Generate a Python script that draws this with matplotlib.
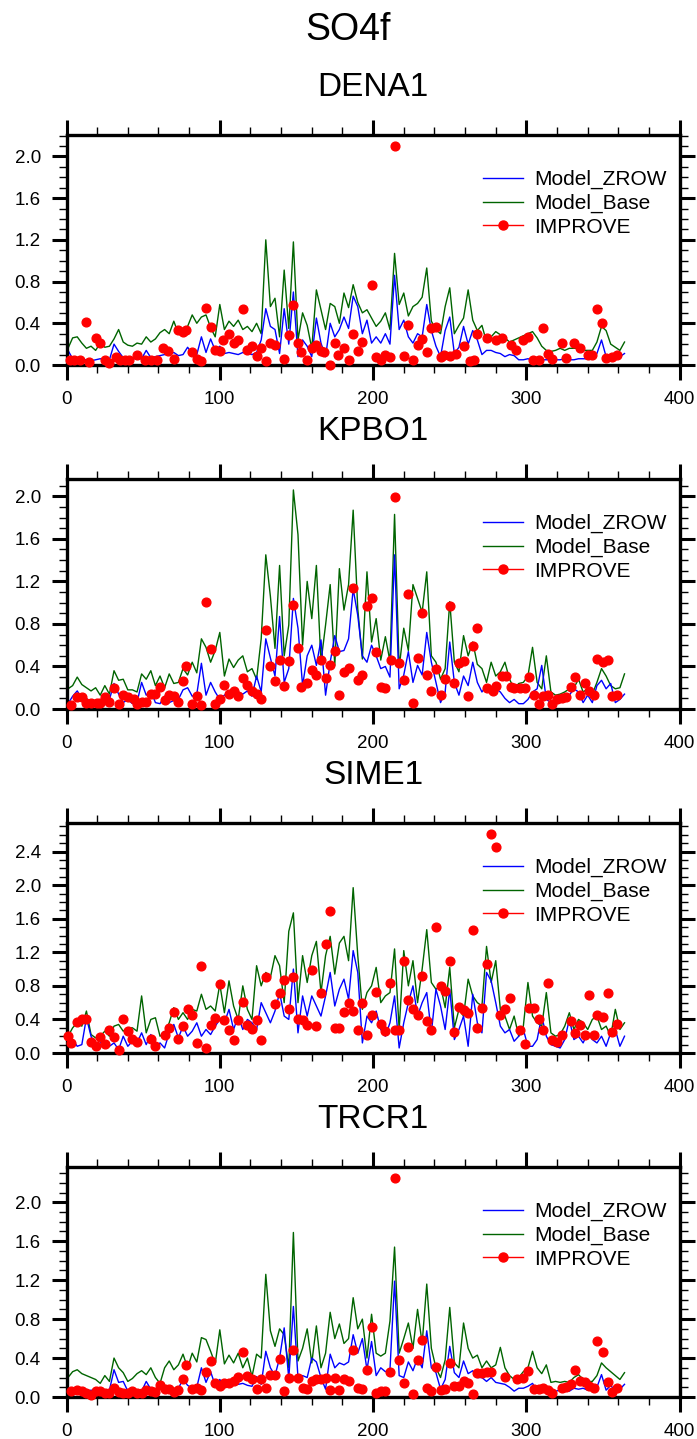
import numpy as np
import matplotlib
matplotlib.use("Agg")
import matplotlib.pyplot as plt
from matplotlib.lines import Line2D
from matplotlib.ticker import MultipleLocator, FormatStrFormatter

plt.rcParams['font.family'] = ['Liberation Sans', 'DejaVu Sans']

# model output every 3rd day of the year
days = np.arange(1, 366, 3)

sites = ["DENA1", "KPBO1", "SIME1", "TRCR1"]
labels = ["Model_ZROW", "Model_Base", "IMPROVE"]

dena1_base = [
    0.16, 0.26, 0.27, 0.21, 0.16, 0.18, 0.14, 0.21, 0.17, 0.18,
    0.25, 0.34, 0.22, 0.19, 0.18, 0.21, 0.20, 0.27, 0.22, 0.25,
    0.31, 0.34, 0.30, 0.42, 0.30, 0.35, 0.37, 0.48, 0.40, 0.46,
    0.48, 0.36, 0.27, 0.58, 0.34, 0.42, 0.37, 0.43, 0.34, 0.37,
    0.32, 0.40, 0.30, 1.20, 0.56, 0.64, 0.27, 0.91, 0.35, 1.18,
    0.24, 0.50, 0.38, 0.16, 0.72, 0.53, 0.34, 0.59, 0.56, 0.40,
    0.69, 0.55, 0.77, 0.60, 0.50, 0.53, 0.45, 0.37, 0.42, 0.50,
    0.34, 1.07, 0.58, 0.69, 0.47, 0.56, 0.59, 0.65, 0.93, 0.42,
    0.34, 0.30, 0.56, 0.74, 0.30, 0.38, 0.45, 0.72, 0.43, 0.33,
    0.38, 0.22, 0.27, 0.32, 0.29, 0.26, 0.22, 0.24, 0.26, 0.28,
    0.30, 0.32, 0.26, 0.18, 0.14, 0.13, 0.14, 0.16, 0.14, 0.16,
    0.16, 0.16, 0.14, 0.14, 0.14, 0.22, 0.37, 0.33, 0.20, 0.17,
    0.14, 0.22]
dena1_zrow = [
    0.14, 0.06, 0.05, 0.05, 0.05, 0.04, 0.05, 0.06, 0.05, 0.05,
    0.20, 0.13, 0.07, 0.06, 0.06, 0.06, 0.06, 0.14, 0.07, 0.08,
    0.09, 0.10, 0.10, 0.12, 0.09, 0.10, 0.17, 0.11, 0.10, 0.27,
    0.12, 0.25, 0.14, 0.18, 0.11, 0.12, 0.11, 0.10, 0.12, 0.11,
    0.10, 0.12, 0.24, 0.54, 0.37, 0.34, 0.11, 0.54, 0.20, 0.70,
    0.08, 0.24, 0.18, 0.08, 0.45, 0.21, 0.08, 0.40, 0.27, 0.34,
    0.46, 0.35, 0.66, 0.56, 0.30, 0.43, 0.21, 0.27, 0.21, 0.30,
    0.20, 0.86, 0.34, 0.43, 0.27, 0.21, 0.30, 0.27, 0.58, 0.33,
    0.18, 0.08, 0.33, 0.46, 0.11, 0.17, 0.37, 0.20, 0.33, 0.24,
    0.10, 0.14, 0.14, 0.12, 0.11, 0.08, 0.10, 0.09, 0.05, 0.05,
    0.06, 0.05, 0.05, 0.05, 0.05, 0.05, 0.05, 0.05, 0.06, 0.05,
    0.05, 0.06, 0.06, 0.06, 0.07, 0.11, 0.24, 0.08, 0.07, 0.07,
    0.08, 0.11]
dena1_obs_day = [
    2, 5, 9, 13, 15, 19, 22, 25, 28, 32,
    35, 38, 41, 46, 51, 55, 59, 63, 66, 70,
    73, 76, 78, 82, 85, 88, 91, 94, 97, 100,
    102, 106, 109, 112, 115, 118, 121, 124, 127, 130,
    133, 136, 142, 145, 148, 151, 153, 157, 160, 163,
    166, 168, 172, 175, 177, 181, 184, 187, 190, 193,
    199, 202, 205, 208, 211, 214, 220, 223, 226, 229,
    232, 235, 238, 241, 244, 246, 250, 254, 259, 263,
    266, 268, 274, 280, 284, 290, 293, 298, 301, 304,
    308, 311, 314, 317, 323, 326, 331, 335, 340, 343,
    346, 349, 352, 356, 359]
dena1_obs = [
    0.05, 0.05, 0.05, 0.41, 0.03, 0.26, 0.21, 0.05, 0.02, 0.08,
    0.05, 0.05, 0.05, 0.10, 0.05, 0.05, 0.05, 0.16, 0.13, 0.06,
    0.34, 0.32, 0.34, 0.12, 0.06, 0.04, 0.55, 0.36, 0.14, 0.13,
    0.24, 0.30, 0.21, 0.24, 0.54, 0.14, 0.18, 0.09, 0.16, 0.04,
    0.21, 0.19, 0.06, 0.29, 0.58, 0.21, 0.12, 0.05, 0.16, 0.19,
    0.13, 0.12, 0.00, 0.21, 0.10, 0.16, 0.05, 0.30, 0.13, 0.22,
    0.77, 0.08, 0.05, 0.10, 0.08, 2.10, 0.09, 0.38, 0.05, 0.19,
    0.25, 0.12, 0.35, 0.36, 0.08, 0.10, 0.09, 0.11, 0.18, 0.04,
    0.05, 0.30, 0.26, 0.24, 0.26, 0.19, 0.14, 0.24, 0.27, 0.05,
    0.05, 0.35, 0.11, 0.06, 0.21, 0.07, 0.21, 0.16, 0.10, 0.10,
    0.54, 0.40, 0.07, 0.08, 0.10]

kpbo1_base = [
    0.19, 0.22, 0.30, 0.23, 0.20, 0.17, 0.20, 0.13, 0.22, 0.14,
    0.36, 0.27, 0.28, 0.18, 0.18, 0.16, 0.33, 0.28, 0.36, 0.22,
    0.31, 0.20, 0.33, 0.24, 0.25, 0.38, 0.32, 0.44, 0.34, 0.66,
    0.58, 0.44, 0.55, 0.72, 0.31, 0.47, 0.39, 0.46, 0.50, 0.35,
    0.38, 0.28, 0.66, 1.45, 1.06, 0.57, 1.35, 0.50, 0.79, 2.06,
    1.64, 0.60, 1.20, 0.85, 1.35, 0.44, 0.79, 1.17, 0.41, 1.32,
    0.93, 1.17, 1.87, 0.94, 0.47, 1.29, 0.63, 0.85, 0.46, 0.68,
    0.45, 1.83, 0.39, 0.76, 0.55, 1.17, 1.04, 0.91, 1.29, 0.50,
    0.44, 0.28, 0.38, 1.01, 0.44, 0.35, 0.69, 0.50, 0.63, 0.42,
    0.38, 0.25, 0.44, 0.31, 0.35, 0.44, 0.28, 0.19, 0.24, 0.25,
    0.31, 0.58, 0.25, 0.19, 0.50, 0.16, 0.13, 0.14, 0.16, 0.19,
    0.20, 0.28, 0.16, 0.19, 0.14, 0.25, 0.38, 0.31, 0.22, 0.19,
    0.20, 0.33]
kpbo1_zrow = [
    0.05, 0.12, 0.17, 0.10, 0.10, 0.06, 0.08, 0.04, 0.06, 0.09,
    0.24, 0.14, 0.06, 0.09, 0.05, 0.06, 0.25, 0.13, 0.17, 0.06,
    0.05, 0.12, 0.06, 0.08, 0.09, 0.18, 0.20, 0.12, 0.14, 0.43,
    0.13, 0.25, 0.16, 0.09, 0.13, 0.16, 0.13, 0.16, 0.14, 0.17,
    0.12, 0.31, 0.16, 0.66, 0.48, 0.31, 0.87, 0.25, 0.38, 1.04,
    0.76, 0.22, 0.50, 0.60, 0.41, 0.65, 0.13, 0.44, 0.69, 0.54,
    0.55, 0.66, 1.13, 0.88, 0.50, 0.44, 0.60, 0.50, 0.38, 0.40,
    0.30, 1.45, 0.19, 0.32, 0.54, 0.25, 0.41, 0.32, 0.72, 0.44,
    0.25, 0.06, 0.16, 0.63, 0.25, 0.13, 0.31, 0.22, 0.44, 0.25,
    0.16, 0.22, 0.16, 0.19, 0.16, 0.10, 0.06, 0.09, 0.05, 0.05,
    0.09, 0.16, 0.19, 0.41, 0.09, 0.06, 0.05, 0.06, 0.09, 0.13,
    0.19, 0.16, 0.06, 0.13, 0.06, 0.22, 0.27, 0.19, 0.24, 0.06,
    0.09, 0.14]
kpbo1_obs_day = [
    3, 7, 10, 13, 16, 20, 22, 25, 28, 31,
    34, 37, 40, 44, 46, 49, 52, 55, 58, 61,
    64, 67, 70, 73, 76, 78, 82, 85, 88, 91,
    94, 97, 100, 103, 106, 109, 112, 115, 118, 121,
    124, 127, 130, 133, 136, 139, 142, 145, 148, 151,
    153, 157, 160, 163, 166, 169, 172, 175, 178, 181,
    184, 187, 190, 193, 196, 199, 202, 205, 208, 212,
    214, 217, 220, 223, 226, 229, 232, 235, 238, 241,
    244, 247, 250, 253, 256, 259, 262, 265, 268, 274,
    278, 280, 284, 287, 290, 292, 296, 299, 302, 305,
    308, 311, 314, 317, 320, 323, 326, 329, 332, 335,
    338, 341, 344, 346, 350, 353, 356, 359]
kpbo1_obs = [
    0.04, 0.11, 0.11, 0.06, 0.06, 0.06, 0.06, 0.11, 0.07, 0.20,
    0.05, 0.13, 0.11, 0.09, 0.05, 0.07, 0.07, 0.14, 0.14, 0.21,
    0.08, 0.13, 0.12, 0.07, 0.26, 0.40, 0.05, 0.12, 0.04, 1.01,
    0.56, 0.05, 0.09, 0.23, 0.14, 0.17, 0.12, 0.29, 0.23, 0.17,
    0.14, 0.09, 0.74, 0.40, 0.26, 0.46, 0.22, 0.45, 0.98, 0.57,
    0.21, 0.24, 0.37, 0.32, 0.46, 0.29, 0.41, 0.55, 0.13, 0.35,
    0.39, 1.14, 0.27, 0.32, 0.97, 1.04, 0.54, 0.21, 0.20, 0.46,
    1.99, 0.43, 0.27, 1.08, 0.06, 0.48, 0.90, 0.32, 0.17, 0.38,
    0.13, 0.28, 0.97, 0.24, 0.43, 0.45, 0.12, 0.59, 0.76, 0.20,
    0.17, 0.22, 0.31, 0.31, 0.21, 0.20, 0.20, 0.20, 0.30, 0.13,
    0.05, 0.12, 0.13, 0.05, 0.09, 0.10, 0.11, 0.21, 0.30, 0.13,
    0.24, 0.17, 0.13, 0.47, 0.44, 0.46, 0.12, 0.13]

sime1_base = [
    0.20, 0.30, 0.36, 0.32, 0.50, 0.22, 0.18, 0.20, 0.26, 0.20,
    0.32, 0.34, 0.26, 0.30, 0.30, 0.26, 0.68, 0.24, 0.40, 0.42,
    0.20, 0.24, 0.36, 0.54, 0.40, 0.48, 0.40, 0.52, 0.50, 0.70,
    0.52, 0.56, 0.50, 0.82, 0.48, 0.86, 0.56, 0.40, 0.80, 0.52,
    0.40, 1.04, 0.80, 0.96, 0.90, 1.16, 1.04, 0.60, 1.45, 1.67,
    0.60, 1.16, 0.84, 1.16, 1.33, 0.72, 1.16, 1.39, 0.94, 1.31,
    1.39, 1.10, 1.97, 1.16, 0.52, 0.72, 0.80, 1.02, 0.60, 0.68,
    0.72, 1.24, 0.28, 1.22, 0.80, 1.10, 0.60, 1.00, 1.47, 0.84,
    0.76, 0.80, 0.54, 1.02, 0.30, 0.52, 0.44, 0.88, 0.68, 0.60,
    0.56, 1.27, 0.84, 1.10, 0.52, 0.44, 0.28, 0.44, 0.20, 0.32,
    0.84, 0.44, 0.36, 0.32, 0.72, 0.24, 0.20, 0.22, 0.32, 0.48,
    0.28, 0.40, 0.36, 0.28, 0.40, 0.44, 0.28, 0.32, 0.20, 0.52,
    0.28, 0.36]
sime1_zrow = [
    0.12, 0.16, 0.08, 0.10, 0.42, 0.20, 0.08, 0.12, 0.14, 0.08,
    0.12, 0.04, 0.20, 0.08, 0.14, 0.12, 0.24, 0.10, 0.22, 0.08,
    0.12, 0.06, 0.24, 0.34, 0.18, 0.32, 0.20, 0.26, 0.36, 0.20,
    0.28, 0.22, 0.32, 0.40, 0.36, 0.52, 0.28, 0.44, 0.28, 0.40,
    0.36, 0.28, 0.60, 0.48, 0.36, 0.50, 0.72, 0.44, 0.40, 1.00,
    0.24, 0.68, 0.44, 0.68, 0.56, 0.44, 0.68, 0.96, 0.56, 0.76,
    0.88, 0.64, 1.22, 0.96, 0.12, 0.44, 0.36, 0.50, 0.28, 0.20,
    0.36, 0.68, 0.06, 0.36, 0.60, 0.80, 0.44, 0.60, 0.72, 0.24,
    0.76, 0.56, 0.28, 0.76, 0.16, 0.28, 0.44, 0.08, 0.70, 0.36,
    0.24, 0.96, 0.86, 0.60, 0.32, 0.24, 0.28, 0.14, 0.20, 0.28,
    0.08, 0.08, 0.16, 0.44, 0.20, 0.10, 0.08, 0.06, 0.16, 0.40,
    0.16, 0.20, 0.12, 0.24, 0.16, 0.12, 0.20, 0.08, 0.24, 0.28,
    0.08, 0.20]
sime1_obs_day = [
    1, 3, 7, 10, 13, 16, 19, 22, 25, 28,
    31, 34, 37, 40, 43, 46, 55, 58, 64, 67,
    70, 73, 76, 79, 82, 85, 88, 91, 94, 97,
    100, 103, 106, 109, 112, 115, 118, 121, 124, 127,
    130, 136, 139, 142, 145, 148, 151, 154, 157, 160,
    163, 166, 169, 172, 175, 178, 181, 184, 187, 190,
    193, 196, 199, 202, 205, 208, 211, 214, 217, 220,
    223, 226, 229, 232, 235, 238, 241, 244, 247, 250,
    253, 256, 259, 262, 265, 268, 271, 274, 277, 280,
    283, 286, 289, 296, 299, 302, 305, 308, 311, 314,
    317, 320, 323, 329, 332, 335, 338, 341, 344, 346,
    350, 353, 356, 359]
sime1_obs = [
    0.20, 0.12, 0.37, 0.41, 0.41, 0.13, 0.08, 0.19, 0.11, 0.28,
    0.19, 0.04, 0.41, 0.26, 0.17, 0.13, 0.17, 0.08, 0.21, 0.30,
    0.49, 0.17, 0.32, 0.53, 0.45, 0.12, 1.04, 0.06, 0.33, 0.42,
    0.82, 0.39, 0.28, 0.16, 0.39, 0.61, 0.33, 0.29, 0.39, 0.16,
    0.90, 0.58, 0.72, 0.87, 0.52, 0.90, 0.41, 0.39, 0.33, 0.99,
    0.32, 0.71, 1.30, 1.69, 0.30, 0.30, 0.49, 0.60, 0.50, 0.28,
    0.60, 0.22, 0.45, 0.73, 0.34, 0.26, 0.83, 0.28, 0.27, 1.10,
    0.63, 0.52, 0.45, 0.92, 0.38, 0.27, 1.50, 0.80, 0.74, 1.10,
    0.25, 0.55, 0.51, 0.48, 1.47, 0.30, 0.54, 1.06, 2.61, 2.46,
    0.45, 0.52, 0.65, 0.28, 0.11, 0.54, 0.54, 0.40, 0.28, 0.83,
    0.15, 0.13, 0.21, 0.38, 0.24, 0.33, 0.22, 0.69, 0.21, 0.45,
    0.43, 0.71, 0.25, 0.34]

trcr1_base = [
    0.20, 0.26, 0.28, 0.24, 0.22, 0.20, 0.18, 0.14, 0.22, 0.16,
    0.40, 0.30, 0.25, 0.16, 0.19, 0.24, 0.27, 0.23, 0.30, 0.20,
    0.14, 0.30, 0.37, 0.28, 0.33, 0.44, 0.30, 0.45, 0.36, 0.61,
    0.59, 0.47, 0.34, 0.69, 0.34, 0.43, 0.35, 0.45, 0.30, 0.40,
    0.21, 0.44, 0.40, 1.26, 0.68, 0.52, 0.70, 0.64, 0.30, 1.69,
    0.37, 0.50, 0.70, 0.35, 0.73, 0.30, 0.45, 0.87, 0.60, 0.75,
    0.55, 0.60, 1.02, 0.70, 0.80, 0.40, 0.85, 0.45, 0.42, 0.45,
    0.78, 1.54, 0.45, 0.60, 0.76, 0.50, 0.90, 0.55, 1.16, 0.50,
    0.30, 0.20, 0.38, 0.92, 0.35, 0.30, 0.76, 0.50, 0.40, 0.43,
    0.30, 0.37, 0.30, 0.33, 0.51, 0.30, 0.22, 0.18, 0.20, 0.26,
    0.30, 0.47, 0.30, 0.24, 0.33, 0.15, 0.16, 0.15, 0.16, 0.15,
    0.20, 0.23, 0.18, 0.16, 0.16, 0.22, 0.35, 0.30, 0.26, 0.22,
    0.18, 0.25]
trcr1_zrow = [
    0.10, 0.06, 0.06, 0.07, 0.06, 0.07, 0.06, 0.07, 0.06, 0.07,
    0.28, 0.15, 0.16, 0.06, 0.06, 0.07, 0.06, 0.16, 0.08, 0.08,
    0.09, 0.07, 0.09, 0.08, 0.09, 0.18, 0.12, 0.09, 0.10, 0.30,
    0.15, 0.26, 0.12, 0.18, 0.11, 0.12, 0.13, 0.13, 0.14, 0.12,
    0.11, 0.21, 0.13, 0.47, 0.30, 0.22, 0.40, 0.71, 0.19, 0.93,
    0.20, 0.22, 0.20, 0.40, 0.36, 0.20, 0.08, 0.44, 0.30, 0.35,
    0.33, 0.36, 0.64, 0.45, 0.60, 0.28, 0.57, 0.22, 0.30, 0.26,
    0.28, 1.19, 0.22, 0.20, 0.36, 0.27, 0.40, 0.30, 0.68, 0.30,
    0.25, 0.08, 0.18, 0.52, 0.25, 0.20, 0.37, 0.24, 0.27, 0.20,
    0.20, 0.16, 0.20, 0.15, 0.14, 0.13, 0.10, 0.06, 0.09, 0.09,
    0.11, 0.14, 0.06, 0.11, 0.06, 0.06, 0.06, 0.07, 0.07, 0.06,
    0.09, 0.08, 0.09, 0.07, 0.09, 0.10, 0.23, 0.07, 0.12, 0.06,
    0.08, 0.13]
trcr1_obs_day = [
    3, 7, 10, 13, 16, 19, 22, 25, 28, 31,
    34, 37, 40, 43, 46, 49, 52, 55, 58, 61,
    64, 67, 70, 73, 76, 78, 82, 85, 88, 91,
    94, 97, 100, 103, 106, 109, 112, 115, 118, 121,
    124, 127, 130, 133, 136, 139, 142, 145, 148, 151,
    154, 157, 160, 163, 166, 169, 172, 175, 178, 181,
    184, 187, 190, 193, 196, 199, 202, 205, 208, 211,
    214, 217, 220, 223, 226, 229, 232, 235, 238, 241,
    244, 247, 250, 253, 256, 259, 262, 265, 268, 271,
    274, 277, 286, 294, 298, 301, 305, 308, 311, 314,
    317, 323, 326, 329, 332, 335, 338, 341, 344, 346,
    350, 353, 356, 359]
trcr1_obs = [
    0.06, 0.07, 0.06, 0.04, 0.02, 0.06, 0.06, 0.04, 0.04, 0.09,
    0.05, 0.04, 0.04, 0.06, 0.04, 0.04, 0.07, 0.06, 0.05, 0.12,
    0.08, 0.08, 0.05, 0.07, 0.18, 0.33, 0.08, 0.09, 0.07, 0.26,
    0.37, 0.14, 0.11, 0.14, 0.14, 0.16, 0.21, 0.46, 0.22, 0.18,
    0.08, 0.19, 0.09, 0.23, 0.23, 0.39, 0.06, 0.20, 0.48, 0.20,
    0.09, 0.08, 0.16, 0.18, 0.18, 0.20, 0.07, 0.20, 0.07, 0.19,
    0.16, 0.48, 0.09, 0.08, 0.28, 0.72, 0.04, 0.06, 0.06, 0.26,
    2.25, 0.38, 0.14, 0.51, 0.03, 0.38, 0.59, 0.09, 0.06, 0.31,
    0.07, 0.08, 0.35, 0.11, 0.11, 0.16, 0.14, 0.03, 0.25, 0.25,
    0.26, 0.26, 0.21, 0.18, 0.20, 0.27, 0.08, 0.08, 0.09, 0.07,
    0.04, 0.09, 0.10, 0.13, 0.28, 0.16, 0.15, 0.11, 0.09, 0.58,
    0.46, 0.15, 0.05, 0.09]

panels = [
    (dena1_zrow, dena1_base, dena1_obs_day, dena1_obs),
    (kpbo1_zrow, kpbo1_base, kpbo1_obs_day, kpbo1_obs),
    (sime1_zrow, sime1_base, sime1_obs_day, sime1_obs),
    (trcr1_zrow, trcr1_base, trcr1_obs_day, trcr1_obs),
]

W, H = 697, 1439
fig = plt.figure(figsize=(W / 100, H / 100), dpi=100)
fig.text(0.5, 1 - 40 / H, "SO4f", ha="center", va="baseline", fontsize=27)

handles = [
    Line2D([], [], color="blue", lw=1.0),
    Line2D([], [], color="#006400", lw=1.0),
    Line2D([], [], color="red", lw=1.0, marker="o", ms=6.5),
]

for i, (site, (zrow, base, oday, obs)) in enumerate(zip(sites, panels)):
    top = 135 + 344 * i
    ax = fig.add_axes([66.5 / W, 1 - (top + 230) / H, 613.2 / W, 230 / H])
    ax.plot(days, base, color="#006400", lw=1.0, zorder=2)
    ax.plot(days, zrow, color="blue", lw=1.0, zorder=2)
    ax.plot(oday, obs, "o", color="red", ms=6.3, zorder=3, clip_on=False)

    ymax = 1.05 * max(max(zrow), max(base), max(obs))
    ax.set_xlim(0, 400)
    ax.set_ylim(0, ymax)
    ax.xaxis.set_major_locator(MultipleLocator(100))
    ax.xaxis.set_minor_locator(MultipleLocator(20))
    ax.yaxis.set_major_locator(MultipleLocator(0.4))
    ax.yaxis.set_minor_locator(MultipleLocator(0.1))
    ax.yaxis.set_major_formatter(FormatStrFormatter("%.1f"))
    ax.tick_params(which="both", direction="out", top=True, right=True)
    ax.tick_params(which="major", length=10.5, width=2.2, labelsize=13.5, pad=8)
    ax.tick_params(which="minor", length=5.5, width=1.0)
    for sp in ax.spines.values():
        sp.set_linewidth(2.4)

    ax.text(0.5, 1 + 39.3 / 230, site, transform=ax.transAxes,
            ha="center", va="baseline", fontsize=24)

    ax.legend(handles, labels, loc="center left", bbox_to_anchor=(0.679, 0.703),
              frameon=False, fontsize=15, handlelength=1.95, handletextpad=0.52,
              labelspacing=0.22, borderpad=0, borderaxespad=0, numpoints=1)

fig.savefig("out.png", dpi=100)
plt.close(fig)
